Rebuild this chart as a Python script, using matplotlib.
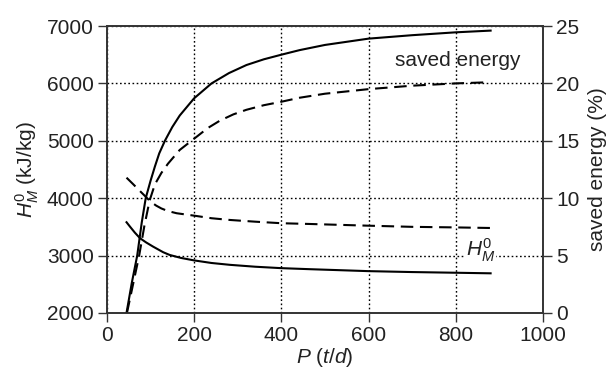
import matplotlib
matplotlib.use("Agg")
import matplotlib.pyplot as plt

plt.rcParams['font.family'] = ['Liberation Sans', 'DejaVu Sans']
plt.rcParams['mathtext.fontset'] = 'custom'
plt.rcParams['mathtext.rm'] = 'Liberation Sans'
plt.rcParams['mathtext.it'] = 'Liberation Sans:italic'
plt.rcParams['mathtext.bf'] = 'Liberation Sans:bold'

# saved energy (%) - right axis
p_se_solid = [45, 57, 69.5, 80, 89, 100, 110, 120, 133, 150, 167, 200, 240, 280, 320, 360, 400, 442, 500, 600, 700, 800, 880]
se_solid = [0, 2.6, 5, 7.9, 10, 11.5, 12.75, 13.9, 15, 16.2, 17.2, 18.7, 20, 20.9, 21.6, 22.1, 22.5, 22.9, 23.35, 23.9, 24.2, 24.45, 24.6]

p_se_dash = [46, 60, 74, 86, 98, 110, 125, 140, 167, 194, 231, 259, 290, 320, 360, 400, 442, 500, 600, 700, 800, 878]
se_dash = [0, 2.5, 5, 7.6, 9.8, 11.2, 12.2, 13.0, 14.2, 15.0, 16.1, 16.75, 17.3, 17.7, 18.1, 18.4, 18.75, 19.1, 19.5, 19.8, 20.0, 20.1]

# H_M^0 (kJ/kg) - left axis
p_h_solid = [45, 53, 64, 76, 90, 106, 129, 144, 170, 200, 240, 282, 340, 400, 465, 600, 700, 800, 880]
h_solid = [3580, 3503, 3400, 3301, 3228, 3155, 3058, 3010, 2958, 2915, 2870, 2838, 2805, 2780, 2762, 2728, 2712, 2700, 2690]

p_h_dash = [45, 60, 75, 87, 100, 113, 125, 140, 160, 200, 240, 282, 340, 400, 465, 600, 700, 800, 880]
h_dash = [4357, 4245, 4130, 4040, 3940, 3870, 3820, 3775, 3737, 3695, 3650, 3620, 3590, 3563, 3550, 3520, 3500, 3490, 3480]

x_ticks = [0, 200, 400, 600, 800, 1000]
left_ticks = [2000, 3000, 4000, 5000, 6000, 7000]
right_ticks = [0, 5, 10, 15, 20, 25]

FS = 15
fig = plt.figure(figsize=(6.13, 3.77), dpi=100)
ax = fig.add_axes([0.1744, 0.170, 0.7113, 0.761])
ax2 = ax.twinx()

lw = 1.5
dash = (0, (6.0, 3.2))
ax2.plot(p_se_solid, se_solid, color='black', lw=lw)
ax2.plot(p_se_dash, se_dash, color='black', lw=lw, linestyle=dash)
ax.plot(p_h_solid, h_solid, color='black', lw=lw)
ax.plot(p_h_dash, h_dash, color='black', lw=lw, linestyle=dash)

ax.set_xlim(0, 1000)
ax.set_ylim(2000, 7000)
ax2.set_ylim(0, 25)
ax.set_xticks(x_ticks)
ax.set_yticks(left_ticks)
ax2.set_yticks(right_ticks)

ax.grid(True, color='black', linestyle=(0, (1.2, 1.8)), lw=1.0)
ax.set_axisbelow(True)

for a in (ax, ax2):
    for s in a.spines.values():
        s.set_color('#333333')
        s.set_linewidth(1.2)
    a.tick_params(direction='out', length=6.5, width=1.0, color='#333333',
                  labelsize=FS, pad=3, labelcolor='#222222')

ax.set_xlabel('$P$ ($t$/$d$)', fontsize=FS, color='#222222', labelpad=1)
ax.set_ylabel('$H_M^0$ (kJ/kg)', fontsize=FS, color='#222222', labelpad=4)
ax2.set_ylabel('saved energy (%)', fontsize=FS, color='#222222', labelpad=6)

ax.text(805, 6400, 'saved energy', fontsize=FS, ha='center', va='center', color='#222222')
ax.text(856, 3090, '$H_M^0$', fontsize=FS, ha='center', va='center', color='#222222',
        bbox=dict(facecolor='white', edgecolor='none', pad=1.0))

fig.savefig('out.png', dpi=100)
